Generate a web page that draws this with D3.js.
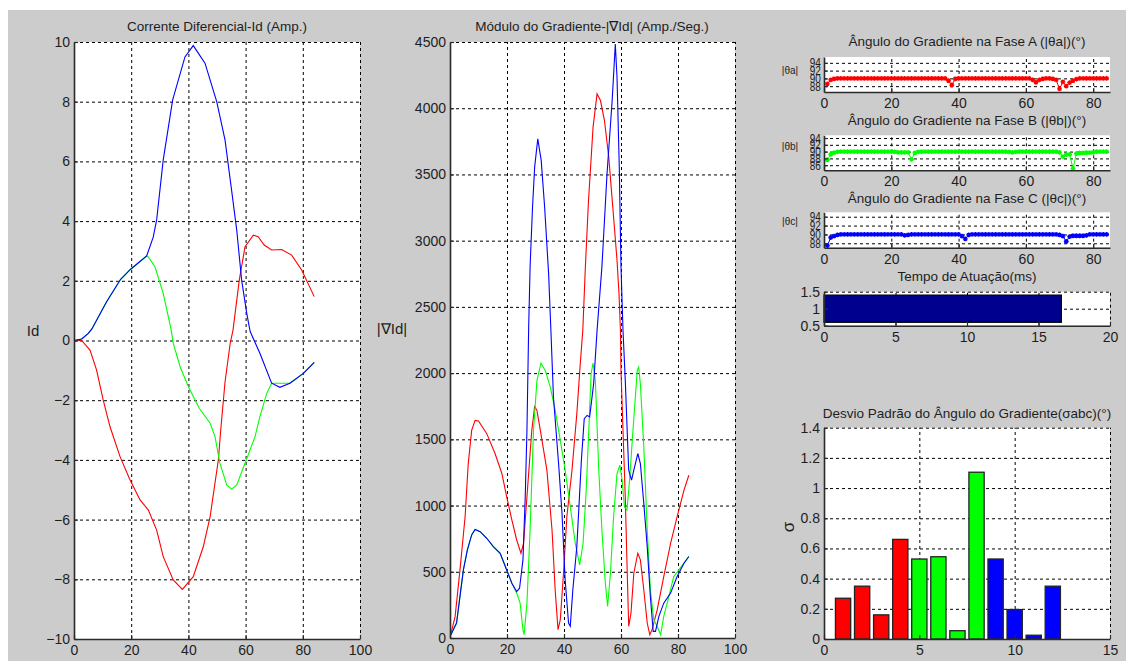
<!DOCTYPE html>
<html lang="pt">
<head>
<meta charset="UTF-8">
<title>Gradiente da Corrente Diferencial</title>
<script src="https://d3js.org/d3.v7.min.js"></script>
<style>
    body { margin: 0; background: #fff; overflow: hidden; }
    svg text { font-family: "Liberation Sans", Arial, sans-serif; fill: #1e1e1e; }
    .grid line { stroke: #000; stroke-width: 1; stroke-dasharray: 3,3; }
    .grid path { display: none; }
    .ax path { stroke: #2a2a2a; stroke-width: 1.6; }
    .ax line { stroke: #2a2a2a; stroke-width: 1.2; }
</style>
</head>
<body>
<svg id="fig" width="1126" height="661"></svg>
<script>
// ---- data ----
// Corrente diferencial Id (x = amostra, y = A)
const idRed = [[0,0],[2.7,0],[5.6,-0.32],[7.9,-0.99],[10.2,-1.99],[12.6,-2.89],[16.1,-3.89],[19.6,-4.67],
    [23.1,-5.34],[26,-5.68],[28.9,-6.35],[31.2,-7.24],[34.7,-8.02],[37.9,-8.34],[41.7,-7.91],[45.2,-6.91],
    [47.6,-5.9],[50.5,-3.98],[51.3,-3.0],[52.8,-1.4],[54.6,-0.1],[55.6,0.35],[57.8,2.03],[59.8,3.14],
    [62.7,3.53],[64.4,3.48],[66.5,3.2],[69.1,3.03],[72.6,3.05],[76.1,2.86],[79.6,2.36],[84,1.47]];
const idBlue = [[0,0],[2.7,0.05],[5,0.24],[6.2,0.38],[11.4,1.3],[16.3,2.05],[19.7,2.38],[25.4,2.83],
    [27.7,3.46],[28.9,4.04],[31.2,6.05],[34.5,8.06],[38.8,9.5],[41.7,9.88],[45.8,9.29],[49.9,8.0],
    [52.8,6.72],[55.1,5.04],[56.9,3.7],[58.6,2.03],[60.4,0.91],[61.6,0.3],[65,-0.43],[69.1,-1.43],
    [72,-1.57],[75.5,-1.43],[80.2,-1.1],[84,-0.73]];
const idGreen = [[0,0],[2.7,0.05],[5,0.24],[6.2,0.38],[11.4,1.3],[16.3,2.05],[19.7,2.38],[25.4,2.83],
    [26,2.8],[28.3,2.47],[31.2,1.58],[34,0.35],[34.7,-0.09],[37.1,-0.88],[40,-1.55],[43.8,-2.27],
    [47.6,-2.77],[49.3,-3.22],[51,-4.11],[53.4,-4.84],[55.1,-4.98],[56.9,-4.84],[59.8,-4.11],[63.3,-3.22],
    [65,-2.55],[67.4,-1.77],[69.1,-1.43],[73.3,-1.43],[75.5,-1.43],[80.2,-1.1],[84,-0.73]];

// Modulo do gradiente |grad Id| (A/s)
const gradRed = [[0.3,30],[1.8,163],[3.5,514],[5.3,916],[6.4,1317],[7.6,1568],[8.8,1643],[10,1638],
    [12.9,1543],[15.8,1393],[18.2,1242],[19.9,1066],[21.7,891],[23.4,740],[24.9,640],[25.8,715],[27,1066],
    [28.7,1568],[29.7,1749],[30.5,1719],[31.7,1568],[34,1267],[35.8,815],[36.9,364],[37.9,63],[38.7,138],
    [39.9,514],[41,916],[42.8,1267],[44.5,1694],[45.7,2070],[46.6,2324],[47.5,2802],[48.6,3304],[50.2,3857],
    [51.6,4108],[52.8,4058],[54.2,3907],[55.7,3631],[57.4,3178],[58.6,2852],[59.3,2600],[59.8,2324],
    [60,2020],[60.7,1568],[61.5,1066],[62.1,565],[62.7,88],[63.5,188],[64.5,489],[65.9,640],[66.8,590],
    [68,364],[69.2,113],[70.1,25],[70.9,63],[72.7,213],[75,464],[77.4,715],[79.7,916],[82.1,1117],[83.8,1229]];
const gradBlue = [[0.3,25],[2.3,113],[3.5,314],[4.7,514],[6.1,665],[7.6,778],[8.8,820],[10.6,803],
    [12.9,753],[15.2,690],[17.6,640],[19.9,514],[21.7,414],[23.4,351],[24.4,376],[25.6,590],[26.4,1066],
    [27,1568],[27.6,2340],[28.1,2802],[28.96,3254],[29.7,3555],[30.8,3769],[32,3606],[33.2,3254],
    [34.6,2751],[35.4,2324],[36.3,1819],[38.1,1317],[39.3,941],[40.4,439],[41.6,113],[42.2,88],[43.1,364],
    [44.5,690],[46.1,1342],[47.1,1656],[48.1,1681],[49,1669],[50.4,1919],[51.6,2321],[53.3,2802],
    [55.1,3505],[56.9,4058],[58,4485],[58.6,4234],[59.4,3555],[60,2802],[60.7,2324],[61.5,1945],
    [62.7,1267],[63.7,1192],[64.5,1267],[65.9,1393],[66.8,1317],[68,1016],[69.2,690],[70.3,314],
    [71.3,50],[72.1,50],[73.3,163],[75,263],[77.4,339],[79.7,464],[82.1,565],[83.8,615]];
const gradGreen = [[0.3,25],[2.3,113],[3.5,314],[4.7,514],[6.1,665],[7.6,778],[8.8,820],[10.6,803],
    [12.9,753],[15.2,690],[17.6,640],[19.9,514],[21.7,414],[23.4,340],[24.6,263],[25.6,63],[26,25],
    [27,263],[28.1,815],[29.3,1568],[30.5,1944],[31.9,2075],[33.4,2020],[35.2,1894],[36.9,1719],
    [38.7,1493],[40.4,1267],[42.2,991],[43.96,715],[45.5,552],[46.7,715],[47.8,1117],[48.7,1568],
    [49.5,1995],[50.2,2075],[51,1944],[52.2,1267],[53.3,815],[54.5,414],[55.3,238],[56.3,489],[57.4,916],
    [58.6,1242],[59.6,1305],[60.4,1192],[61.2,991],[62.1,966],[63,1192],[64.2,1568],[65.7,2020],
    [66.2,2045],[66.8,1919],[68,1443],[69.2,815],[70.3,364],[71.5,138],[72.7,88],[73.9,25],[75,163],
    [76.8,314],[78.5,464],[82.1,565],[83.8,615]];

// Angulo do gradiente por fase (graus), amostras 1..84
const thetaA = [88.6,89.6,89.9,90,90,90,90,90,90,90,90,90,90,90,90,90,90,90,90,90,90,90,90,90,90,90,90,90,
    90,90,90,90,90,90,90,90,89.4,88.3,89.9,90,90,90,90,90,90,90,90,90,90,90,90,90,90,90,90,90,90,90,90,90,
    90,89.6,89.0,89.6,89.9,90,90,89.9,89.6,87.3,89.1,88.0,88.9,89.4,89.8,90,90,90,90,90,90,90,90,90];
const thetaB = [87.6,89.2,89.7,89.9,90,90,90,90,90,90,90,90,90,90,90,90,90,90,90,90,89.9,89.8,89.8,89.8,
    89.8,87.7,89.6,89.9,90,90,90,90,90,90,90,90,90,90,90,90,90,90,90,90,90,90,90,90,90,90,90,90,90,90,89.9,
    89.8,89.9,90,90,90,90,90,90,90,90,90,90,90,90,89.8,88.5,89.1,89.2,85.0,89.4,89.6,89.6,89.7,89.7,89.8,
    90,90,90,90];
const thetaC = [87.5,89.3,89.6,89.9,90,90,90,90,90,90,90,90,90,90,90,90,90,90,90,90,90,90,90,89.8,89.9,
    90,90,90,90,90,90,90,90,90,90,90,90,90,90,90,89.6,89.0,89.9,90,90,90,90,90,90,90,90,90,90,90,90,90,90,
    90,90,90,90,90,90,90,90,90,90,90,90,89.9,89.6,88.4,89.5,89.7,89.7,89.7,89.7,89.8,90,90,90,90,90,90];

// Tempo de atuacao (ms)
const tempoAtuacao = 16.6;

// Desvio padrao do angulo (12 barras: 4 fase A, 4 fase B, 4 fase C)
const sigmaVals = [0.27, 0.35, 0.16, 0.66, 0.53, 0.545, 0.055, 1.105, 0.53, 0.195, 0.025, 0.35];
const sigmaColors = ['#ff0000','#ff0000','#ff0000','#ff0000','#00ff00','#00ff00','#00ff00','#00ff00',
    '#0000ff','#0000ff','#0000ff','#0000ff'];

// tick values
const idTicks = [-10,-8,-6,-4,-2,0,2,4,6,8,10];
const gradTicks = [0,500,1000,1500,2000,2500,3000,3500,4000,4500];
const sampleTicks = [0,20,40,60,80,100];
const angTicksX = [0,20,40,60,80];
const angTicksA = [88,90,92,94];
const angTicksB = [86,88,90,92,94];
const tempoTicksX = [0,5,10,15,20];
const tempoTicksY = [0.5,1,1.5];
const sigmaTicksX = [0,5,10,15];
const sigmaTicksY = [0,0.2,0.4,0.6,0.8,1,1.2,1.4];

const svg = d3.select('#fig');

// figure background (MATLAB grey)
svg.append('rect').attr('x', 8).attr('y', 10).attr('width', 1118).attr('height', 651).attr('fill', '#cccccc');

function makePanel(c) {
    const g = svg.append('g');
    const x = d3.scaleLinear().domain(c.xd).range([c.x0, c.x1]);
    const y = d3.scaleLinear().domain(c.yd).range([c.y1, c.y0]);
    g.append('rect').attr('x', c.x0).attr('y', c.y0)
        .attr('width', c.x1 - c.x0).attr('height', c.y1 - c.y0).attr('fill', '#fff');

    // dotted grid
    g.append('g').attr('class', 'grid')
        .attr('transform', `translate(0,${c.y1})`)
        .call(d3.axisBottom(x).tickValues(c.xt.filter(v => v !== c.xd[0]))
            .tickSize(-(c.y1 - c.y0)).tickSizeOuter(0).tickFormat(''));
    g.append('g').attr('class', 'grid')
        .attr('transform', `translate(${c.x0},0)`)
        .call(d3.axisLeft(y).tickValues(c.yt.filter(v => v !== c.yd[0]))
            .tickSize(-(c.x1 - c.x0)).tickSizeOuter(0).tickFormat(''));

    const data = g.append('g');
    const axes = g.append('g');
    return { g, x, y, data, axes, c };
}

function finishAxes(p, fs, yfs, yScaleX) {
    const c = p.c;
    const ax = p.axes.append('g').attr('class', 'ax')
        .attr('transform', `translate(0,${c.y1})`)
        .call(d3.axisBottom(p.x).tickValues(c.xt).tickSize(-4).tickSizeOuter(0).tickPadding(6)
            .tickFormat(d3.format('~g')));
    ax.selectAll('text').attr('font-size', fs).attr('dy', '0.72em');
    const ay = p.axes.append('g').attr('class', 'ax')
        .attr('transform', `translate(${c.x0},0)`)
        .call(d3.axisLeft(p.y).tickValues(c.yt).tickSize(-4).tickSizeOuter(0).tickPadding(4)
            .tickFormat(d3.format('~g')));
    ay.selectAll('text').attr('font-size', yfs || fs);
    if (yScaleX) {
        ay.selectAll('.tick text').attr('transform', `scale(${yScaleX},1)`);
    }
    p.axes.selectAll('.tick line').attr('stroke', '#2a2a2a');
}

function title(xc, yb, txt, fs) {
    svg.append('text').attr('x', xc).attr('y', yb).attr('text-anchor', 'middle')
        .attr('font-size', fs || 13.5).text(txt);
}

const colors = { r: '#ff0000', g: '#00ff00', b: '#0000ff' };

// ---- Corrente diferencial ----
const pId = makePanel({ x0: 74, x1: 360, y0: 42, y1: 639, xd: [0,100], yd: [-10,10], xt: sampleTicks, yt: idTicks });
const lineId = d3.line().x(d => pId.x(d[0])).y(d => pId.y(d[1]));
[[idRed, colors.r], [idGreen, colors.g], [idBlue, colors.b]].forEach(([s, col]) => {
    pId.data.append('path').datum(s).attr('d', lineId)
        .attr('fill', 'none').attr('stroke', col).attr('stroke-width', 1.1);
});
finishAxes(pId, 14);
title(217, 31, 'Corrente Diferencial-Id (Amp.)');
svg.append('text').attr('x', 33).attr('y', 336).attr('text-anchor', 'middle').attr('font-size', 15).text('Id');

// ---- Modulo do gradiente ----
const pGr = makePanel({ x0: 450, x1: 735, y0: 42, y1: 638, xd: [0,100], yd: [0,4500], xt: sampleTicks, yt: gradTicks });
const lineGr = d3.line().x(d => pGr.x(d[0])).y(d => pGr.y(d[1]));
[[gradRed, colors.r], [gradGreen, colors.g], [gradBlue, colors.b]].forEach(([s, col]) => {
    pGr.data.append('path').datum(s).attr('d', lineGr)
        .attr('fill', 'none').attr('stroke', col).attr('stroke-width', 1.1);
});
finishAxes(pGr, 14);
title(592, 31, 'Módulo do Gradiente-|∇Id| (Amp./Seg.)');
svg.append('text').attr('x', 392).attr('y', 334).attr('text-anchor', 'middle').attr('font-size', 15).text('|∇Id|');

// ---- Angulos por fase ----
const starPath = 'M-2.4,0H2.4M0,-2.4V2.4M-1.7,-1.7L1.7,1.7M-1.7,1.7L1.7,-1.7';
function anglePanel(y0, y1, yd, yt, vals, col, ttl, lbl, ttlY, lblY) {
    const p = makePanel({ x0: 824, x1: 1110, y0, y1, xd: [0,85], yd, xt: angTicksX, yt });
    const pts = vals.map((v, i) => [i + 1, v]);
    p.data.append('path').datum(pts)
        .attr('d', d3.line().x(d => p.x(d[0])).y(d => p.y(d[1])))
        .attr('fill', 'none').attr('stroke', col).attr('stroke-width', 1);
    p.data.selectAll('path.mk').data(pts).join('path').attr('class', 'mk')
        .attr('transform', d => `translate(${p.x(d[0])},${p.y(d[1])})`)
        .attr('d', starPath).attr('stroke', col).attr('stroke-width', 1.3).attr('fill', 'none');
    finishAxes(p, 14, 12.5, 0.8);
    title(967, ttlY, ttl);
    svg.append('text').attr('x', 790).attr('y', lblY).attr('text-anchor', 'middle').attr('font-size', 10).text(lbl);
    return p;
}
anglePanel(57, 92, [86.5, 95.5], angTicksA, thetaA, colors.r, 'Ângulo do Gradiente na Fase A (|θa|)(°)', '|θa|', 46, 73.5);
anglePanel(135.3, 170.3, [84.5, 94.8], angTicksB, thetaB, colors.g, 'Ângulo do Gradiente na Fase B (|θb|)(°)', '|θb|', 124.5, 149.5);
anglePanel(212.3, 247.7, [87, 95], angTicksA, thetaC, colors.b, 'Ângulo do Gradiente na Fase C (|θc|)(°)', '|θc|', 203, 225);

// ---- Tempo de atuacao ----
const pT = makePanel({ x0: 824, x1: 1110, y0: 291.7, y1: 325.7, xd: [0,20], yd: [0.5,1.5], xt: tempoTicksX, yt: tempoTicksY });
pT.data.append('rect').datum(tempoAtuacao)
    .attr('x', pT.x(0)).attr('y', pT.y(1.4))
    .attr('width', d => pT.x(d) - pT.x(0)).attr('height', pT.y(0.6) - pT.y(1.4))
    .attr('fill', '#00008f').attr('stroke', '#000').attr('stroke-width', 1.2);
finishAxes(pT, 14);
title(967, 281, 'Tempo de Atuação(ms)');

// ---- Desvio padrao ----
const pS = makePanel({ x0: 824, x1: 1110, y0: 427.7, y1: 639, xd: [0,15], yd: [0,1.4], xt: sigmaTicksX, yt: sigmaTicksY });
pS.data.selectAll('rect').data(sigmaVals).join('rect')
    .attr('x', (d, i) => pS.x(i + 1 - 0.4))
    .attr('width', pS.x(0.8) - pS.x(0))
    .attr('y', d => pS.y(d))
    .attr('height', d => pS.y(0) - pS.y(d))
    .attr('fill', (d, i) => sigmaColors[i]).attr('stroke', '#222').attr('stroke-width', 1.3);
finishAxes(pS, 14);
title(967, 417.5, 'Desvio Padrão do Ângulo do Gradiente(σabc)(°)');
svg.append('text').attr('transform', 'translate(794,527) rotate(-90)')
    .attr('text-anchor', 'middle').attr('font-size', 17).text('σ');
</script>
</body>
</html>
